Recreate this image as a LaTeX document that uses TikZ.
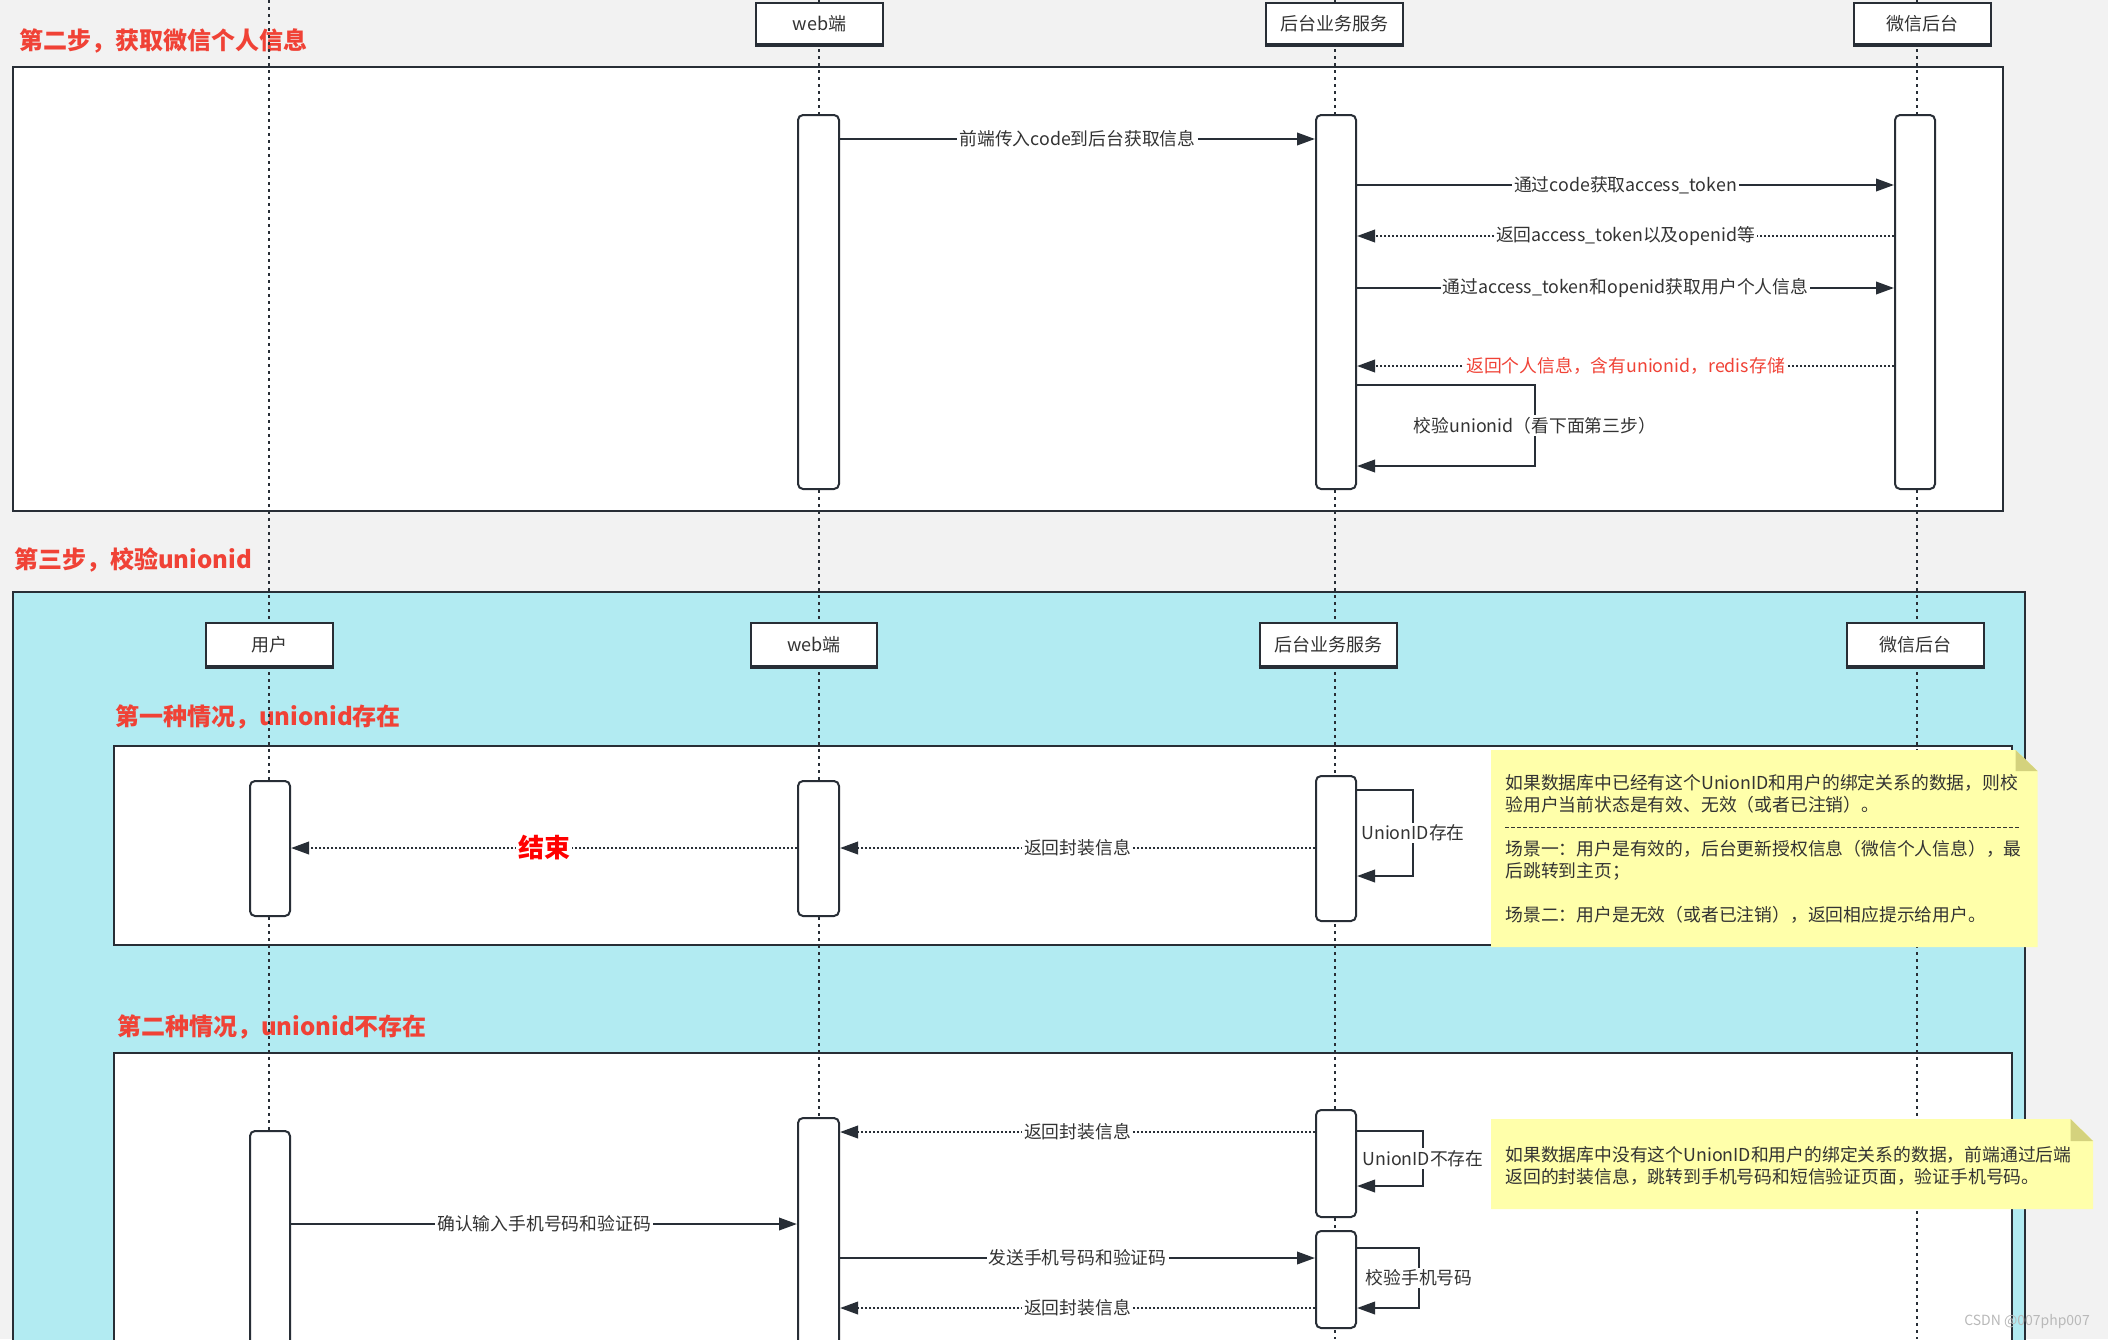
\documentclass[tikz,border=0pt]{standalone}
\usepackage{fontspec}
\setmainfont{Noto Sans CJK SC}
\usetikzlibrary{arrows.meta,fit}

\definecolor{canvas}{RGB}{242,242,242}
\definecolor{cyanbg}{RGB}{178,235,242}
\definecolor{ink}{RGB}{40,46,54}
\definecolor{txt}{RGB}{51,51,51}
\definecolor{stepred}{RGB}{240,66,54}
\definecolor{notey}{RGB}{255,255,170}
\definecolor{notefold}{RGB}{212,210,125}

\begin{document}
\begin{tikzpicture}[
    x=0.5pt, y=-0.5pt,
    >={Triangle[length=9pt,width=6.2pt]},
    font=\fontsize{8.9}{11}\selectfont,
    frame/.style={draw=ink, line width=1.3pt},
    actor/.style={draw=ink, fill=white, line width=1pt, inner sep=0pt, text=txt,
                  font=\fontsize{9}{11}\selectfont},
    bar/.style={draw=ink, fill=white, line width=1pt, rounded corners=2.5pt, inner sep=0pt},
    life/.style={ink, line width=0.8pt, dash pattern=on 1.5pt off 2pt},
    msg/.style={->, ink, line width=1.2pt},
    ret/.style={msg, dash pattern=on 1pt off 1pt},
    lbl/.style={fill=white, text=txt, inner sep=1pt},
    title/.style={anchor=west, text=stepred, font=\fontsize{12}{14}\selectfont\bfseries},
    note/.style={anchor=north west, align=left, inner sep=0pt, text=txt}
]
\useasboundingbox (0,0) rectangle (2108,1339);
\clip (0,0) rectangle (2108,1339);
\fill[canvas] (0,0) rectangle (2108,1339);

% ---- lifeline x-positions ----
\def\xUser{269}
\def\xWeb{819}
\def\xBiz{1335}
\def\xWx{1917}

% ===== FRAMES =====
\draw[frame, fill=white]  (13,67)   rectangle (2003,511);
\draw[frame, fill=cyanbg] (13,592)  rectangle (2025,1400);
\draw[frame, fill=white]  (114,746) rectangle (2012,945);
\draw[frame, fill=white]  (114,1053) rectangle (2012,1400);

\node[title] (stepTwo)   at (12,41)   {第二步，获取微信个人信息};
\node[title] (stepThree) at (7,560)   {第三步，校验unionid};
\node[title] (caseOne)   at (108,717) {第一种情况，unionid存在};
\node[title] (caseTwo)   at (110,1027) {第二种情况，unionid不存在};

% lifelines run the whole height
\foreach \x in {\xUser,\xWeb,\xBiz,\xWx}
  \draw[life] (\x,0) -- (\x,1339);

% ===== PARTICIPANTS =====
\node[actor, minimum width=63.5pt, minimum height=20.5pt] (webTop) at (819.5,23.5)  {web端};
\node[actor, minimum width=68.5pt, minimum height=20.5pt] (bizTop) at (1334.5,23.5) {后台业务服务};
\node[actor, minimum width=68.5pt, minimum height=20.5pt] (wxTop)  at (1922.5,23.5) {微信后台};

\node[actor, minimum width=63.5pt, minimum height=21.5pt] (userBox) at (269.5,644.5) {用户};
\node[actor, minimum width=63pt,   minimum height=21.5pt] (webBox)  at (814,644.5)   {web端};
\node[actor, minimum width=68.5pt, minimum height=21.5pt] (bizBox)  at (1328,644.5)  {后台业务服务};
\node[actor, minimum width=68.5pt, minimum height=21.5pt] (wxBox)   at (1915,644.5)  {微信后台};

\foreach \n in {webTop,bizTop,wxTop,userBox,webBox,bizBox,wxBox}
  \draw[ink, line width=2pt] (\n.south west) -- (\n.south east);

% ===== STEP TWO: get user info =====
\node[bar, fit={(798,115)(839,489)}]   (webA) {};
\node[bar, fit={(1316,115)(1356,489)}] (bizA) {};
\node[bar, fit={(1895,115)(1935,489)}] (wxA)  {};

\draw[msg] (webA.east |- 0,139) -- node[lbl]{前端传入code到后台获取信息} (bizA.west |- 0,139);
\draw[msg] (bizA.east |- 0,185) -- node[lbl]{通过code获取access\_token} (wxA.west |- 0,185);
\draw[ret] (wxA.west |- 0,236) -- node[lbl]{返回access\_token以及openid等} (bizA.east |- 0,236);
\draw[msg] (bizA.east |- 0,288) -- node[lbl]{通过access\_token和openid获取用户个人信息} (wxA.west |- 0,288);
\draw[ret] (wxA.west |- 0,366) -- node[lbl, text=stepred]{返回个人信息，含有unionid，redis存储} (bizA.east |- 0,366);
\draw[msg] (bizA.east |- 0,385) -- ++(178,0)
    -- node[lbl]{校验unionid（看下面第三步）} ++(0,81) -- (bizA.east |- 0,466);

% ===== CASE ONE: unionid exists =====
\node[bar, fit={(250,781)(290,916)}]   (userB) {};
\node[bar, fit={(798,781)(839,916)}]   (webB)  {};
\node[bar, fit={(1316,776)(1356,921)}] (bizB)  {};

\draw[msg] (bizB.east |- 0,790) -- ++(56,0)
    -- node[lbl]{UnionID存在} ++(0,86) -- (bizB.east |- 0,876);
\draw[ret] (bizB.west |- 0,848) -- node[lbl]{返回封装信息} (webB.east |- 0,848);
\draw[ret] (webB.west |- 0,848) -- node[lbl, text=red, font=\fontsize{13}{15}\selectfont\bfseries]{结束} (userB.east |- 0,848);

% note for case one
\fill[notey] (1491,750) -- (2015.5,750) -- (2037.5,771) -- (2037.5,947) -- (1491,947) -- cycle;
\fill[notefold] (2015.5,750) -- (2037.5,771) -- (2015.5,771) -- cycle;
\node[note] (noteA) at (1505,774) {如果数据库中已经有这个UnionID和用户的绑定关系的数据，则校\\
    验用户当前状态是有效、无效（或者已注销）。\\[11pt]
    场景一：用户是有效的，后台更新授权信息（微信个人信息），最\\
    后跳转到主页；\\[11pt]
    场景二：用户是无效（或者已注销），返回相应提示给用户。};
\draw[txt, line width=0.5pt, dash pattern=on 2pt off 1pt] (noteA.west |- 0,827) -- (2020,827);

% ===== CASE TWO: unionid missing =====
\node[bar, fit={(250,1131)(290,1370)}]   (userC) {};
\node[bar, fit={(798,1118)(839,1370)}]   (webC)  {};
\node[bar, fit={(1316,1110)(1356,1217)}] (bizC)  {};
\node[bar, fit={(1316,1231)(1356,1328)}] (bizD)  {};

\draw[ret] (bizC.west |- 0,1132) -- node[lbl]{返回封装信息} (webC.east |- 0,1132);
\draw[msg] (bizC.east |- 0,1131) -- ++(66,0)
    -- node[lbl]{UnionID不存在} ++(0,55) -- (bizC.east |- 0,1186);
\draw[msg] (userC.east |- 0,1224) -- node[lbl]{确认输入手机号码和验证码} (webC.west |- 0,1224);
\draw[msg] (webC.east |- 0,1258) -- node[lbl]{发送手机号码和验证码} (bizD.west |- 0,1258);
\draw[msg] (bizD.east |- 0,1248) -- ++(62,0)
    -- node[lbl]{校验手机号码} ++(0,60) -- (bizD.east |- 0,1308);
\draw[ret] (bizD.west |- 0,1308) -- node[lbl]{返回封装信息} (webC.east |- 0,1308);

% note for case two
\fill[notey] (1491,1119) -- (2070.5,1119) -- (2093,1141) -- (2093,1209) -- (1491,1209) -- cycle;
\fill[notefold] (2070.5,1119) -- (2093,1141) -- (2070.5,1141) -- cycle;
\node[note] (noteB) at (1505,1146) {如果数据库中没有这个UnionID和用户的绑定关系的数据，前端通过后端\\
    返回的封装信息，跳转到手机号码和短信验证页面，验证手机号码。};

\node[text=gray!55, font=\fontsize{7}{8}\selectfont] (mark) at (2027,1322) {CSDN @007php007};

\end{tikzpicture}
\end{document}
